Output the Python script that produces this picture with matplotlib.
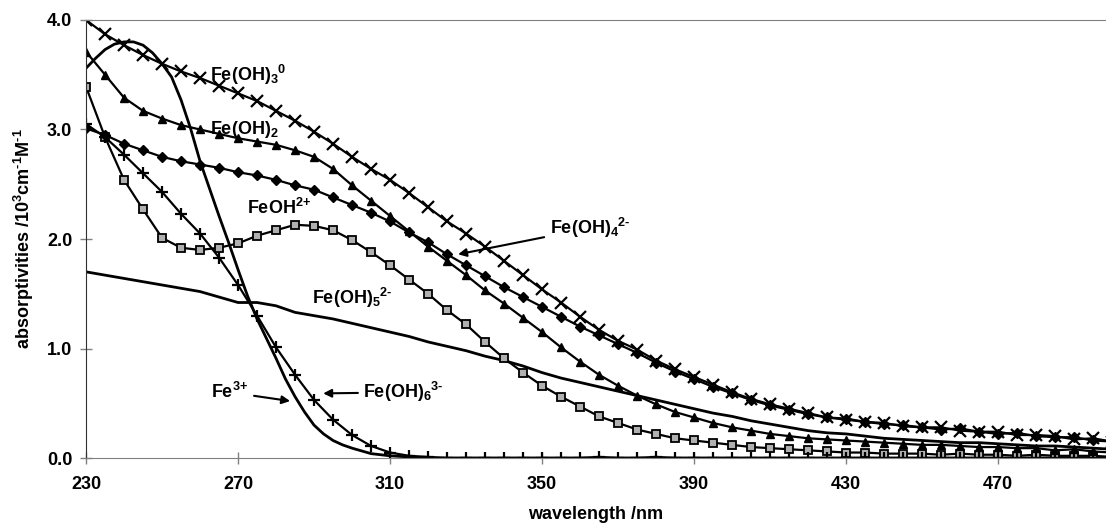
import numpy as np
import matplotlib
matplotlib.use('Agg')
import matplotlib.pyplot as plt

plt.rcParams['font.family'] = ['Liberation Sans', 'DejaVu Sans']
plt.rcParams['font.weight'] = 'bold'
plt.rcParams['axes.labelweight'] = 'bold'
plt.rcParams['mathtext.fontset'] = 'custom'
plt.rcParams['mathtext.rm'] = 'Liberation Sans:bold'
plt.rcParams['mathtext.it'] = 'Liberation Sans:bold'
plt.rcParams['mathtext.bf'] = 'Liberation Sans:bold'
plt.rcParams['mathtext.default'] = 'bf'

# wavelength grid, nm
wavelength = np.arange(230, 501, 5)

# absorptivities /10^3 cm-1 M-1
fe_oh3 = [4.00, 3.87, 3.77, 3.68, 3.60, 3.53, 3.47, 3.40, 3.33, 3.26,
          3.17, 3.08, 2.98, 2.87, 2.75, 2.64, 2.54, 2.42, 2.29, 2.16,
          2.05, 1.93, 1.80, 1.67, 1.54, 1.42, 1.29, 1.17, 1.07, 0.99,
          0.89, 0.81, 0.74, 0.67, 0.60, 0.54, 0.49, 0.45, 0.41, 0.37,
          0.35, 0.33, 0.32, 0.29, 0.28, 0.28, 0.25, 0.24, 0.24, 0.21,
          0.21, 0.20, 0.17, 0.18, 0.15]
fe_oh2 = [3.71, 3.50, 3.29, 3.17, 3.10, 3.04, 3.00, 2.96, 2.92, 2.89,
          2.86, 2.81, 2.75, 2.64, 2.49, 2.35, 2.21, 2.07, 1.93, 1.80,
          1.67, 1.53, 1.41, 1.28, 1.15, 1.01, 0.88, 0.76, 0.66, 0.57,
          0.49, 0.42, 0.37, 0.32, 0.28, 0.25, 0.22, 0.20, 0.18, 0.17,
          0.16, 0.15, 0.14, 0.13, 0.12, 0.12, 0.11, 0.10, 0.10, 0.09,
          0.09, 0.07, 0.08, 0.06, 0.05]
fe_oh4 = [3.01, 2.95, 2.87, 2.81, 2.75, 2.71, 2.68, 2.65, 2.61, 2.58,
          2.54, 2.49, 2.45, 2.38, 2.31, 2.24, 2.16, 2.06, 1.97, 1.86,
          1.76, 1.66, 1.56, 1.47, 1.38, 1.29, 1.20, 1.12, 1.04, 0.96,
          0.87, 0.79, 0.72, 0.65, 0.59, 0.53, 0.48, 0.44, 0.40, 0.37,
          0.36, 0.33, 0.31, 0.30, 0.28, 0.26, 0.27, 0.24, 0.22, 0.23,
          0.20, 0.19, 0.19, 0.16, 0.15]
fe_oh = [3.39, 2.93, 2.54, 2.27, 2.01, 1.92, 1.90, 1.92, 1.96, 2.03,
         2.08, 2.13, 2.12, 2.08, 1.99, 1.88, 1.76, 1.63, 1.50, 1.35,
         1.22, 1.06, 0.91, 0.78, 0.66, 0.56, 0.47, 0.38, 0.32, 0.26,
         0.22, 0.18, 0.16, 0.14, 0.12, 0.10, 0.09, 0.08, 0.07, 0.06,
         0.05, 0.05, 0.04, 0.04, 0.04, 0.03, 0.04, 0.03, 0.03, 0.02,
         0.03, 0.02, 0.02, 0.02, 0.01]
fe_oh5 = [1.70, 1.67, 1.64, 1.61, 1.58, 1.55, 1.52, 1.47, 1.42, 1.42,
          1.39, 1.33, 1.30, 1.27, 1.23, 1.19, 1.15, 1.11, 1.06, 1.02,
          0.98, 0.93, 0.89, 0.84, 0.78, 0.73, 0.69, 0.65, 0.61, 0.57,
          0.53, 0.49, 0.45, 0.41, 0.38, 0.34, 0.31, 0.28, 0.25, 0.23,
          0.22, 0.20, 0.18, 0.17, 0.16, 0.15, 0.14, 0.14, 0.13, 0.12,
          0.11, 0.11, 0.10, 0.09, 0.08]
fe_oh6 = [3.05, 2.93, 2.77, 2.60, 2.43, 2.23, 2.05, 1.83, 1.58, 1.30,
          1.01, 0.76, 0.53, 0.35, 0.21, 0.11, 0.05, 0.02, 0.01, 0.00,
          0.00, 0.00, 0.00, 0.00, 0.00, 0.00, 0.00, 0.01, 0.00, 0.00,
          0.01, 0.00, 0.00, 0.00, 0.00, 0.00, 0.00, 0.00, 0.00, 0.00,
          0.00, 0.00, 0.00, 0.00, 0.00, 0.00, 0.00, 0.00, 0.00, 0.00,
          0.00, 0.00, 0.00, 0.00, 0.00]

# Fe3+ is a plain curve, read at a finer step where it bends
fe3_wavelength = [230, 232.5, 235, 237.5, 240, 242.5, 245, 247.5, 250, 252.5,
                  255, 257.5, 260, 262.5, 265, 267.5, 270, 272.5, 275, 277.5,
                  280, 282.5, 285, 287.5, 290, 292.5, 295, 297.5, 300, 305,
                  310, 315, 320, 340, 380, 420, 460, 500]
fe3 = [3.56, 3.65, 3.73, 3.78, 3.80, 3.80, 3.77, 3.70, 3.60, 3.48,
       3.27, 3.01, 2.71, 2.46, 2.21, 1.97, 1.72, 1.48, 1.27, 1.09,
       0.91, 0.72, 0.56, 0.42, 0.30, 0.22, 0.16, 0.12, 0.09, 0.04,
       0.02, 0.01, 0.00, 0.00, 0.00, 0.00, 0.00, 0.00]

x_ticks = [230, 270, 310, 350, 390, 430, 470]
y_ticks = [0.0, 1.0, 2.0, 3.0, 4.0]

fig = plt.figure(figsize=(11.06, 5.29), dpi=100)
ax = fig.add_axes([0.0778, 0.1342, 0.9222, 0.828])

ax.plot(wavelength, fe_oh5, color='black', lw=2)
ax.plot(fe3_wavelength, fe3, color='black', lw=2)
ax.plot(wavelength, fe_oh, color='black', lw=1.6, marker='s', ms=5.5,
        mfc='#b0b0b0', mec='black', mew=1.3)
ax.plot(wavelength, fe_oh2, color='black', lw=1.6, marker='^', ms=6,
        mfc='black', mec='black')
ax.plot(wavelength, fe_oh4, color='black', lw=1.6, marker='D', ms=5,
        mfc='black', mec='black')
ax.plot(wavelength, fe_oh6, color='black', lw=1.6, marker='+', ms=9, mew=1.6)
ax.plot(wavelength, fe_oh3, color='black', lw=1.6, marker='x', ms=8, mew=1.6)

# species labels
fs = 13
ax.text(262.6, 3.50, r'Fe(OH)$_3$$^0$', fontsize=fs, fontweight='bold', va='center')
ax.text(262.6, 3.00, r'Fe(OH)$_2$', fontsize=fs, fontweight='bold', va='center')
ax.text(272.4, 2.28, r'FeOH$^{\text{2+}}$', fontsize=fs, fontweight='bold', va='center')
ax.text(289.5, 1.46, r'Fe(OH)$_5$$^{\text{2-}}$', fontsize=fs, fontweight='bold',
        va='center')
arrow = dict(arrowstyle='-|>', color='black', lw=1.5, mutation_scale=12,
             shrinkA=2, shrinkB=0)
ax.annotate(r'Fe(OH)$_4$$^{\text{2-}}$', xy=(327.9, 1.86), xytext=(352, 2.10),
            fontsize=fs, fontweight='bold', va='center', ha='left', arrowprops=arrow)
ax.annotate(r'Fe(OH)$_6$$^{\text{3-}}$', xy=(292.4, 0.59), xytext=(303, 0.60),
            fontsize=fs, fontweight='bold', va='center', ha='left', arrowprops=arrow)
ax.annotate(r'Fe$^{\text{3+}}$', xy=(283.7, 0.52), xytext=(263, 0.60),
            fontsize=fs, fontweight='bold', va='center', ha='left', arrowprops=arrow)

ax.set_xlim(230, 498.4)
ax.set_ylim(0, 4.0)
ax.set_xticks(x_ticks)
ax.set_yticks(y_ticks)
ax.set_yticklabels(['%.1f' % v for v in y_ticks])
ax.tick_params(axis='both', direction='inout', length=8, width=1,
               color='#808080', labelsize=fs)
ax.tick_params(axis='x', pad=9)
ax.tick_params(axis='y', pad=6)
for lab in ax.get_xticklabels() + ax.get_yticklabels():
    lab.set_fontweight('bold')
ax.spines['right'].set_visible(False)
ax.spines['top'].set_color('#808080')
ax.spines['bottom'].set_color('#808080')
ax.spines['left'].set_color('#303030')

ax.set_xlabel('wavelength /nm', fontsize=fs, fontweight='bold', labelpad=9)
ax.set_ylabel(r'absorptivities /10$^3$cm$^{\text{-1}}$M$^{\text{-1}}$', fontsize=fs,
              fontweight='bold', labelpad=8)

fig.savefig('out.png', dpi=100)
